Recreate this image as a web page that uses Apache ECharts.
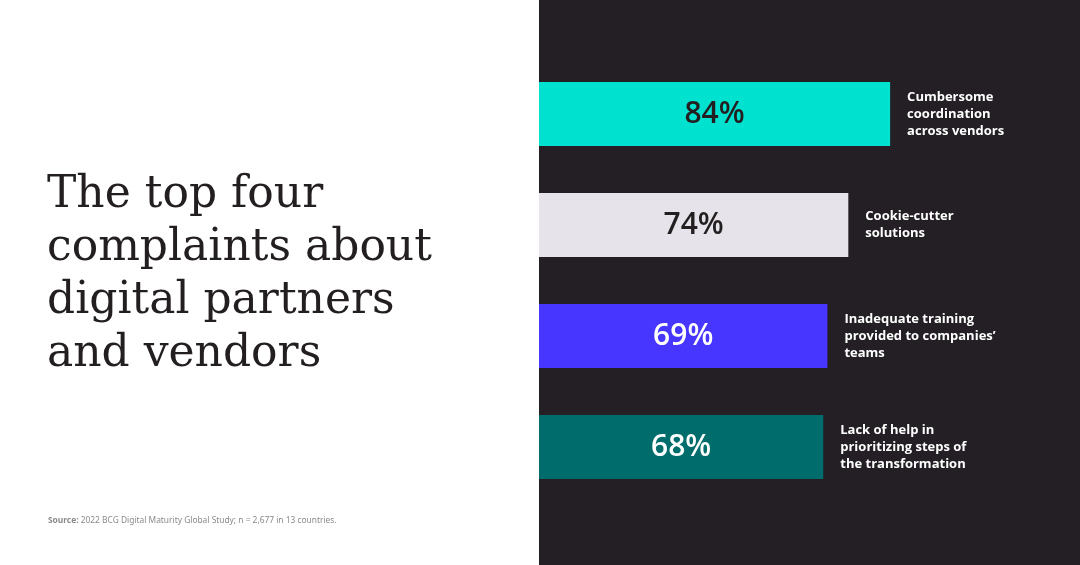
<!DOCTYPE html>
<html>
<head>
<meta charset="utf-8">
<script src="https://cdn.jsdelivr.net/npm/echarts@6/dist/echarts.min.js"></script>
<style>
  html, body { margin: 0; padding: 0; background: #fff; }
  #chart { width: 1080px; height: 565px; }
</style>
</head>
<body>
<div id="chart"></div>
<script>
var categories = [
    'Cumbersome\ncoordination\nacross vendors',
    'Cookie-cutter\nsolutions',
    'Inadequate training\nprovided to companies\u2019\nteams',
    'Lack of help in\nprioritizing steps of\nthe transformation'
];
var values = [84, 74, 69, 68];
var barColors = ['#00e2d0', '#e6e4ea', '#4636ff', '#006c6c'];
var valueColors = ['#231f20', '#231f20', '#ffffff', '#ffffff'];

var myChart = echarts.init(document.getElementById('chart'));

var option = {
    backgroundColor: '#ffffff',
    animation: false,
    graphic: [
        {
            type: 'rect',
            z: -10,
            shape: { x: 539, y: 0, width: 541, height: 565 },
            style: { fill: '#231f24' }
        },
        {
            type: 'text',
            left: 47,
            top: 169,
            style: {
                text: 'The top four\ncomplaints about\ndigital partners\nand vendors',
                font: '44px "DejaVu Serif"',
                lineHeight: 53,
                fill: '#231f20'
            }
        },
        {
            type: 'text',
            left: 48,
            top: 517,
            style: {
                text: '{b|Source:} 2022 BCG Digital Maturity Global Study; n = 2,677 in 13 countries.',
                fill: '#8a8a8a',
                font: '8.4px "Noto Sans"',
                rich: {
                    b: { fontWeight: 'bold', fontSize: 8.4, fill: '#8a8a8a', fontFamily: 'Noto Sans' }
                }
            }
        }
    ],
    grid: { left: 539, top: 58.5, width: 418, height: 444 },
    xAxis: { type: 'value', min: 0, max: 100, show: false },
    yAxis: {
        type: 'category',
        data: categories,
        inverse: true,
        show: false
    },
    series: [
        {
            type: 'bar',
            barWidth: 64,
            data: values.map(function (v, i) {
                return {
                    value: v,
                    itemStyle: { color: barColors[i] },
                    label: { color: valueColors[i] }
                };
            }),
            label: {
                show: true,
                position: 'inside',
                formatter: '{c}%',
                fontFamily: 'Open Sans',
                fontWeight: 600,
                fontSize: 30
            }
        },
        {
            type: 'bar',
            barWidth: 64,
            barGap: '-100%',
            silent: true,
            itemStyle: { color: 'transparent' },
            data: values,
            label: {
                show: true,
                position: 'right',
                distance: 17,
                formatter: function (p) { return p.name; },
                color: '#ffffff',
                fontFamily: 'Open Sans',
                fontWeight: 'bold',
                fontSize: 13,
                lineHeight: 17,
                align: 'left'
            }
        }
    ]
};

myChart.setOption(option);
window.addEventListener('resize', function () {
    myChart.resize();
});
</script>
</body>
</html>
